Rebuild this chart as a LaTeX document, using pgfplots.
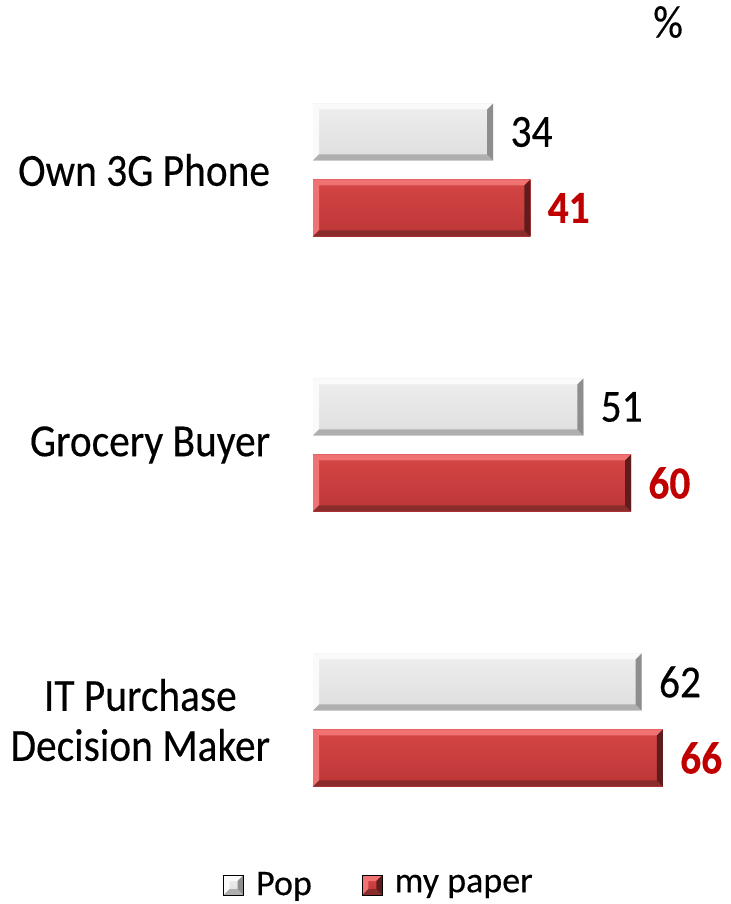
\documentclass[border=0pt]{standalone}
\usepackage{fontspec}
\setmainfont{Carlito}
\newfontfamily\lblfont[FakeStretch=0.9,FakeBold=0.3]{Carlito}
\newfontfamily\legfont[FakeBold=0.3]{Carlito}
\usepackage{pgfplots}
\pgfplotsset{compat=1.18}
\definecolor{poptop}{HTML}{EEEEEE}
\definecolor{popbot}{HTML}{DEDEDE}
\definecolor{popl}{HTML}{FAFAFA}
\definecolor{popd}{HTML}{AFAFAF}
\definecolor{popr}{HTML}{8E8E8E}
\definecolor{redtop}{HTML}{D64646}
\definecolor{redbot}{HTML}{BC3636}
\definecolor{redl}{HTML}{F07272}
\definecolor{redd}{HTML}{8A2C2C}
\definecolor{redr}{HTML}{5E1C1C}
\definecolor{numred}{HTML}{C00000}
\newcommand\bevelfill[4]{%
  \pgfpointanchor{path picture bounding box}{south west}\pgfgetlastxy{\bvx}{\bvy}%
  \pgfpointanchor{path picture bounding box}{north east}\pgfgetlastxy{\bex}{\bey}%
  \pgfsetfillcolor{#1}%
  \pgfpathmoveto{\pgfpoint{\bvx}{\bey}}\pgfpathlineto{\pgfpoint{\bex}{\bey}}%
  \pgfpathlineto{\pgfpoint{\bex-3pt}{\bey-3pt}}\pgfpathlineto{\pgfpoint{\bvx+3pt}{\bey-3pt}}%
  \pgfpathclose\pgfusepath{fill}%
  \pgfsetfillcolor{#4}%
  \pgfpathmoveto{\pgfpoint{\bvx}{\bvy}}\pgfpathlineto{\pgfpoint{\bvx}{\bey}}%
  \pgfpathlineto{\pgfpoint{\bvx+3pt}{\bey-3pt}}\pgfpathlineto{\pgfpoint{\bvx+3pt}{\bvy+3pt}}%
  \pgfpathclose\pgfusepath{fill}%
  \pgfsetfillcolor{#2}%
  \pgfpathmoveto{\pgfpoint{\bvx}{\bvy}}\pgfpathlineto{\pgfpoint{\bex}{\bvy}}%
  \pgfpathlineto{\pgfpoint{\bex-3pt}{\bvy+3pt}}\pgfpathlineto{\pgfpoint{\bvx+3pt}{\bvy+3pt}}%
  \pgfpathclose\pgfusepath{fill}%
  \pgfsetfillcolor{#3}%
  \pgfpathmoveto{\pgfpoint{\bex}{\bvy}}\pgfpathlineto{\pgfpoint{\bex}{\bey}}%
  \pgfpathlineto{\pgfpoint{\bex-3pt}{\bey-3pt}}\pgfpathlineto{\pgfpoint{\bex-3pt}{\bvy+3pt}}%
  \pgfpathclose\pgfusepath{fill}%
}
\tikzset{bevel/.style n args={4}{path picture={\bevelfill{#1}{#2}{#3}{#4}}}}
\pgfplotsset{
  popbar/.style={bar shift=19pt, top color=poptop, bottom color=popbot, draw=none,
    bevel={popl}{popd}{popr}{popl},
    every node near coord/.append style={text=black}},
  redbar/.style={bar shift=-19pt, top color=redtop, bottom color=redbot, draw=none,
    bevel={redl}{redd}{redr}{redl},
    every node near coord/.append style={text=numred,
      font=\lblfont\bfseries\fontsize{23pt}{25pt}\selectfont}},
}
\begin{document}
\begin{tikzpicture}
\path[use as bounding box] (0,0) rectangle (365.5pt,452pt);
\begin{axis}[
  at={(156.5pt,449.5pt)}, anchor=north west,
  x=2.65pt, y=137.5pt,
  xmin=0, xmax=78, ymin=-0.6, ymax=2.6,
  xbar, bar width=28.5pt,
  axis line style={draw=none}, tick style={draw=none},
  xtick=\empty,
  ytick={0,1,2},
  yticklabels={{IT Purchase\\Decision Maker},{Grocery Buyer},{Own 3G Phone}},
  yticklabel style={align=center, inner sep=0pt, xshift=-17pt,
    font=\lblfont\fontsize{23pt}{25pt}\selectfont},
  clip=false,
  nodes near coords={\pgfmathprintnumber[assume math mode=true]{\pgfplotspointmeta}},
  every node near coord/.append style={anchor=west, inner sep=0pt, xshift=8.5pt,
    font=\lblfont\fontsize{23pt}{25pt}\selectfont},
  legend image code/.code={\draw[#1] (0pt,-5pt) rectangle (10pt,5pt);},
  legend style={at={(axis cs:-17,-0.6)}, anchor=west, draw=none, fill=none,
    inner sep=0pt, legend columns=2,
    font=\legfont\fontsize{18pt}{20pt}\selectfont,
    /tikz/every odd column/.append style={column sep=4pt},
    /tikz/every even column/.append style={column sep=23pt}},
]
\addplot[popbar] coordinates {(34,2)};
\addlegendentry{Pop}
\addplot[redbar] coordinates {(41,2)};
\addlegendentry{my paper}
\addplot[popbar, forget plot] coordinates {(51,1)};
\addplot[redbar, forget plot] coordinates {(60,1)};
\addplot[popbar, forget plot] coordinates {(62,0)};
\addplot[redbar, forget plot] coordinates {(66,0)};
\node[font=\lblfont\fontsize{23pt}{25pt}\selectfont, inner sep=0pt] at (axis cs:67,2.538) {\%};
\end{axis}
\end{tikzpicture}
\end{document}
